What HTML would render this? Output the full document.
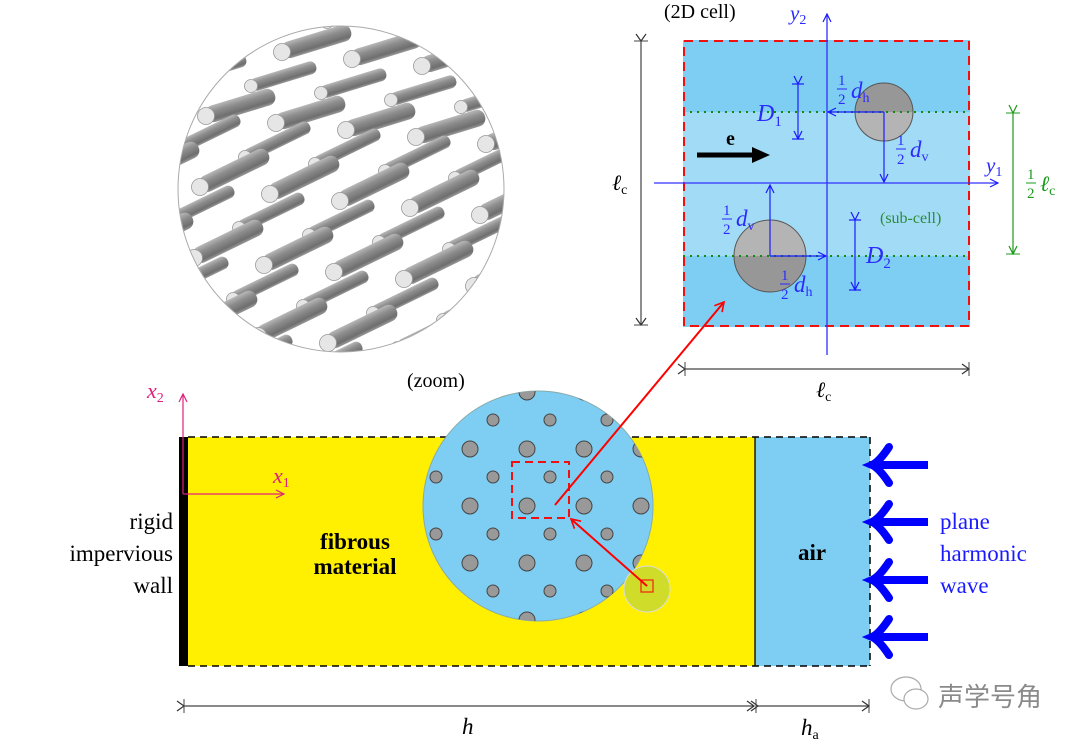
<!DOCTYPE html>
<html><head><meta charset="utf-8"><style>
html,body{margin:0;padding:0;background:#fff;}
svg{display:block;}
.s{font-family:"Liberation Serif",serif;}
.m{font-family:"Liberation Serif",serif;font-style:italic;}
</style></head><body>
<svg width="1080" height="744" viewBox="0 0 1080 744" xmlns="http://www.w3.org/2000/svg">
<defs>
<linearGradient id="rg" x1="0" y1="0" x2="0" y2="1">
<stop offset="0" stop-color="#b8b8b8"/><stop offset="0.35" stop-color="#8e8e8e"/><stop offset="0.8" stop-color="#6e6e6e"/><stop offset="1" stop-color="#9a9a9a"/>
</linearGradient>
<g id="b1"><g transform="rotate(-17)"><rect x="0" y="-8.5" width="72" height="17" rx="8" fill="url(#rg)"/></g><circle r="8.5" fill="#e6e6e6" stroke="#999" stroke-width="0.8"/></g>
<g id="s1"><g transform="rotate(-17)"><rect x="0" y="-6.5" width="68" height="13" rx="6" fill="url(#rg)"/></g><circle r="6.5" fill="#e6e6e6" stroke="#999" stroke-width="0.8"/></g>
<g id="b2"><g transform="rotate(-26)"><rect x="0" y="-8.5" width="76" height="17" rx="8" fill="url(#rg)"/></g><circle r="8.5" fill="#e6e6e6" stroke="#999" stroke-width="0.8"/></g>
<g id="s2"><g transform="rotate(-26)"><rect x="0" y="-6.5" width="72" height="13" rx="6" fill="url(#rg)"/></g><circle r="6.5" fill="#e6e6e6" stroke="#999" stroke-width="0.8"/></g>
<clipPath id="c1"><circle cx="341" cy="189" r="163"/></clipPath>
<clipPath id="c2"><circle cx="538" cy="506" r="115"/></clipPath>
<marker id="ab" markerWidth="10" markerHeight="10" refX="9" refY="5" orient="auto" markerUnits="userSpaceOnUse"><path d="M1,1 L9,5 L1,9" fill="none" stroke="#1a1aff" stroke-width="1.2"/></marker>
<marker id="ak" markerWidth="10" markerHeight="12" refX="9" refY="6" orient="auto" markerUnits="userSpaceOnUse"><path d="M2,1 L9,6 L2,11" fill="none" stroke="#333" stroke-width="1.2"/></marker>
<marker id="am" markerWidth="10" markerHeight="10" refX="9" refY="5" orient="auto" markerUnits="userSpaceOnUse"><path d="M1,1 L9,5 L1,9" fill="none" stroke="#e0207a" stroke-width="1.2"/></marker>
<marker id="ar" markerWidth="12" markerHeight="12" refX="10" refY="6" orient="auto" markerUnits="userSpaceOnUse"><path d="M1,1 L10,6 L1,11" fill="none" stroke="#f00" stroke-width="1.6"/></marker>
<marker id="ag" markerWidth="10" markerHeight="10" refX="9" refY="5" orient="auto" markerUnits="userSpaceOnUse"><path d="M1,1 L9,5 L1,9" fill="none" stroke="#1a9a1a" stroke-width="1.2"/></marker>
</defs>

<!-- fibre zoom circle -->
<g clip-path="url(#c1)">
<rect x="170" y="20" width="345" height="340" fill="#fff"/>
<g>
<use href="#b1" x="78" y="-40"/><use href="#b1" x="148" y="-33"/><use href="#b1" x="218" y="-26"/><use href="#b1" x="288" y="-19"/><use href="#b1" x="358" y="-12"/><use href="#b1" x="428" y="-5"/><use href="#b1" x="498" y="2"/>
<use href="#s1" x="47" y="-6"/><use href="#s1" x="117" y="1"/><use href="#s1" x="187" y="8"/><use href="#s1" x="257" y="15"/><use href="#s1" x="327" y="22"/><use href="#s1" x="397" y="29"/><use href="#s1" x="467" y="36"/>
<use href="#b1" x="72" y="31"/><use href="#b1" x="142" y="38"/><use href="#b1" x="212" y="45"/><use href="#b1" x="282" y="52"/><use href="#b1" x="352" y="59"/><use href="#b1" x="422" y="66"/><use href="#b1" x="492" y="73"/>
<use href="#s1" x="41" y="65"/><use href="#s1" x="111" y="72"/><use href="#s1" x="181" y="79"/><use href="#s1" x="251" y="86"/><use href="#s1" x="321" y="93"/><use href="#s1" x="391" y="100"/><use href="#s1" x="461" y="107"/>
<use href="#b1" x="66" y="102"/><use href="#b1" x="136" y="109"/><use href="#b1" x="206" y="116"/><use href="#b1" x="276" y="123"/><use href="#b1" x="346" y="130"/><use href="#b1" x="416" y="137"/><use href="#b1" x="486" y="144"/>
<use href="#s2" x="35" y="136"/><use href="#s2" x="105" y="143"/><use href="#s2" x="175" y="150"/><use href="#s2" x="245" y="157"/><use href="#s2" x="315" y="164"/><use href="#s2" x="385" y="171"/><use href="#s2" x="455" y="178"/>
<use href="#b2" x="60" y="173"/><use href="#b2" x="130" y="180"/><use href="#b2" x="200" y="187"/><use href="#b2" x="270" y="194"/><use href="#b2" x="340" y="201"/><use href="#b2" x="410" y="208"/><use href="#b2" x="480" y="215"/>
<use href="#s2" x="29" y="207"/><use href="#s2" x="99" y="214"/><use href="#s2" x="169" y="221"/><use href="#s2" x="239" y="228"/><use href="#s2" x="309" y="235"/><use href="#s2" x="379" y="242"/><use href="#s2" x="449" y="249"/>
<use href="#b2" x="54" y="244"/><use href="#b2" x="124" y="251"/><use href="#b2" x="194" y="258"/><use href="#b2" x="264" y="265"/><use href="#b2" x="334" y="272"/><use href="#b2" x="404" y="279"/><use href="#b2" x="474" y="286"/>
<use href="#s2" x="23" y="278"/><use href="#s2" x="93" y="285"/><use href="#s2" x="163" y="292"/><use href="#s2" x="233" y="299"/><use href="#s2" x="303" y="306"/><use href="#s2" x="373" y="313"/><use href="#s2" x="443" y="320"/>
<use href="#b2" x="48" y="315"/><use href="#b2" x="118" y="322"/><use href="#b2" x="188" y="329"/><use href="#b2" x="258" y="336"/><use href="#b2" x="328" y="343"/><use href="#b2" x="398" y="350"/><use href="#b2" x="468" y="357"/>
<use href="#s2" x="17" y="349"/><use href="#s2" x="87" y="356"/><use href="#s2" x="157" y="363"/><use href="#s2" x="227" y="370"/><use href="#s2" x="297" y="377"/><use href="#s2" x="367" y="384"/><use href="#s2" x="437" y="391"/>
</g>
</g>
<circle cx="341" cy="189" r="163" fill="none" stroke="#aaa" stroke-width="1"/>

<!-- 2D cell -->
<rect x="683" y="40" width="287" height="287" fill="#7ecef3"/>
<rect x="683" y="112" width="287" height="144" fill="#a2dbf5"/>
<path d="M855,112 A29,29 0 0 1 913,112 Z" fill="#979797"/>
<path d="M855,112 A29,29 0 0 0 913,112 Z" fill="#b4b4b4"/>
<circle cx="884" cy="112" r="29" fill="none" stroke="#555" stroke-width="1"/>
<path d="M734,256 A36,36 0 0 1 806,256 Z" fill="#b4b4b4"/>
<path d="M734,256 A36,36 0 0 0 806,256 Z" fill="#979797"/>
<circle cx="770" cy="256" r="36" fill="none" stroke="#555" stroke-width="1"/>
<line x1="683" y1="112" x2="970" y2="112" stroke="#138a13" stroke-width="2" stroke-dasharray="2,5"/>
<line x1="683" y1="256" x2="970" y2="256" stroke="#138a13" stroke-width="2" stroke-dasharray="2,5"/>
<rect x="684" y="41" width="285" height="285" fill="none" stroke="#f01010" stroke-width="2" stroke-dasharray="9,6"/>
<!-- axes -->
<line x1="827" y1="355" x2="827" y2="14" stroke="#3030ff" stroke-width="1.3" marker-end="url(#ab)"/>
<line x1="654" y1="183" x2="998" y2="183" stroke="#3030ff" stroke-width="1.3" marker-end="url(#ab)"/>
<text x="790" y="20" class="m" font-size="21" fill="#2a2aff">y<tspan font-size="14" font-style="normal" dy="4">2</tspan></text>
<text x="986" y="172" class="m" font-size="21" fill="#2a2aff">y<tspan font-size="14" font-style="normal" dy="4">1</tspan></text>
<!-- dims blue -->
<g stroke="#1a1aff" stroke-width="1.2" fill="none">
<line x1="798" y1="84" x2="798" y2="139" marker-start="url(#ab)" marker-end="url(#ab)"/>
<line x1="792" y1="84" x2="804" y2="84"/><line x1="792" y1="139" x2="804" y2="139"/>
<line x1="884" y1="112" x2="828" y2="112" marker-end="url(#ab)"/>
<line x1="884" y1="112" x2="884" y2="182" marker-end="url(#ab)"/>
<line x1="770" y1="256" x2="770" y2="185" marker-end="url(#ab)"/>
<line x1="770" y1="256" x2="826" y2="256" marker-end="url(#ab)"/>
<line x1="855" y1="220" x2="855" y2="290" marker-start="url(#ab)" marker-end="url(#ab)"/>
<line x1="849" y1="220" x2="861" y2="220"/><line x1="849" y1="290" x2="861" y2="290"/>
</g>
<g class="s" fill="#2a2aff">
<text x="757" y="121" class="m" font-size="24">D<tspan font-size="15" font-style="normal" dy="5">1</tspan></text>
<text x="866" y="263" class="m" font-size="24">D<tspan font-size="15" font-style="normal" dy="5">2</tspan></text>
<text x="838" y="85" font-size="15">1</text><line x1="837" y1="89" x2="847" y2="89" stroke="#2a2aff"/><text x="838" y="104" font-size="15">2</text><text x="851" y="98" class="m" font-size="23">d<tspan font-size="14" font-style="normal" dy="4">h</tspan></text>
<text x="897" y="145" font-size="15">1</text><line x1="896" y1="149" x2="906" y2="149" stroke="#2a2aff"/><text x="897" y="164" font-size="15">2</text><text x="910" y="157" class="m" font-size="23">d<tspan font-size="14" font-style="normal" dy="4">v</tspan></text>
<text x="723" y="215" font-size="15">1</text><line x1="722" y1="219" x2="732" y2="219" stroke="#2a2aff"/><text x="723" y="234" font-size="15">2</text><text x="736" y="226" class="m" font-size="23">d<tspan font-size="14" font-style="normal" dy="4">v</tspan></text>
<text x="781" y="280" font-size="15">1</text><line x1="780" y1="284" x2="790" y2="284" stroke="#2a2aff"/><text x="781" y="299" font-size="15">2</text><text x="794" y="292" class="m" font-size="23">d<tspan font-size="14" font-style="normal" dy="4">h</tspan></text>
</g>
<text x="880" y="223" class="s" font-size="16" fill="#2e8b3a">(sub-cell)</text>
<!-- e arrow -->
<line x1="697" y1="155" x2="758" y2="155" stroke="#000" stroke-width="5"/>
<path d="M752,147 L770,155 L752,163 Z" fill="#000"/>
<text x="726" y="145" class="s" font-size="20" font-weight="bold">e</text>
<!-- left/bottom dims -->
<line x1="641" y1="41" x2="641" y2="325" stroke="#444" stroke-width="1.2" marker-start="url(#ak)" marker-end="url(#ak)"/>
<line x1="634" y1="41" x2="648" y2="41" stroke="#444"/><line x1="634" y1="325" x2="648" y2="325" stroke="#444"/>
<text x="612" y="190" class="m" font-size="22">ℓ<tspan font-size="14" font-style="normal" dy="4">c</tspan></text>
<line x1="685" y1="369" x2="969" y2="369" stroke="#444" stroke-width="1.2" marker-start="url(#ak)" marker-end="url(#ak)"/>
<line x1="685" y1="362" x2="685" y2="376" stroke="#444"/><line x1="969" y1="362" x2="969" y2="376" stroke="#444"/>
<text x="816" y="397" class="m" font-size="22">ℓ<tspan font-size="14" font-style="normal" dy="4">c</tspan></text>
<line x1="1013" y1="113" x2="1013" y2="254" stroke="#1a9a1a" stroke-width="1.2" marker-start="url(#ag)" marker-end="url(#ag)"/>
<line x1="1006" y1="113" x2="1020" y2="113" stroke="#1a9a1a"/><line x1="1006" y1="254" x2="1020" y2="254" stroke="#1a9a1a"/>
<g fill="#1a9a1a"><text x="1027" y="179" class="s" font-size="15">1</text><line x1="1026" y1="183" x2="1036" y2="183" stroke="#1a9a1a"/><text x="1027" y="198" class="s" font-size="15">2</text><text x="1040" y="191" class="m" font-size="22">ℓ<tspan font-size="14" font-style="normal" dy="4">c</tspan></text></g>
<text x="664" y="18" class="s" font-size="20">(2D cell)</text>

<!-- bottom domain -->
<rect x="188" y="437" width="567" height="229" fill="#ffef00"/>
<rect x="755" y="437" width="115" height="229" fill="#7ecef3"/>
<line x1="188" y1="437" x2="870" y2="437" stroke="#000" stroke-width="1.5" stroke-dasharray="7,5"/>
<line x1="188" y1="666" x2="870" y2="666" stroke="#000" stroke-width="1.5" stroke-dasharray="7,5"/>
<line x1="870" y1="437" x2="870" y2="666" stroke="#000" stroke-width="1.5" stroke-dasharray="7,5"/>
<line x1="755" y1="437" x2="755" y2="666" stroke="#000" stroke-width="1.3"/>
<rect x="179" y="437" width="9" height="229" fill="#000"/>
<line x1="183" y1="494" x2="183" y2="394" stroke="#e0207a" stroke-width="1.2" marker-end="url(#am)"/>
<line x1="183" y1="494" x2="284" y2="494" stroke="#e0207a" stroke-width="1.2" marker-end="url(#am)"/>
<text x="147" y="398" class="m" font-size="22" fill="#e0207a">x<tspan font-size="14" font-style="normal" dy="4">2</tspan></text>
<text x="273" y="483" class="m" font-size="22" fill="#e0207a">x<tspan font-size="14" font-style="normal" dy="4">1</tspan></text>
<g class="s" font-size="23" text-anchor="end"><text x="173" y="529">rigid</text><text x="173" y="561">impervious</text><text x="173" y="593">wall</text></g>
<g class="s" font-size="23" font-weight="bold" text-anchor="middle"><text x="355" y="549">fibrous</text><text x="355" y="574">material</text><text x="812" y="560">air</text></g>
<g class="s" font-size="23" fill="#1a1aff"><text x="940" y="529">plane</text><text x="940" y="561">harmonic</text><text x="940" y="593">wave</text></g>
<!-- wave arrows -->
<g stroke="#0000ff" stroke-width="8" stroke-linecap="round" fill="none">
<line x1="874" y1="465" x2="928" y2="465" stroke-linecap="butt"/><path d="M889,447 Q879,462 872,465 Q879,468 889,483"/>
<line x1="874" y1="522" x2="928" y2="522" stroke-linecap="butt"/><path d="M889,504 Q879,519 872,522 Q879,525 889,540"/>
<line x1="874" y1="580" x2="928" y2="580" stroke-linecap="butt"/><path d="M889,562 Q879,577 872,580 Q879,583 889,598"/>
<line x1="874" y1="637" x2="928" y2="637" stroke-linecap="butt"/><path d="M889,619 Q879,634 872,637 Q879,640 889,655"/>
</g>
<!-- bottom dims -->
<line x1="184" y1="706" x2="754" y2="706" stroke="#444" stroke-width="1.2" marker-start="url(#ak)" marker-end="url(#ak)"/>
<line x1="184" y1="699" x2="184" y2="713" stroke="#444"/><line x1="756" y1="699" x2="756" y2="713" stroke="#444"/>
<line x1="758" y1="706" x2="869" y2="706" stroke="#444" stroke-width="1.2" marker-start="url(#ak)" marker-end="url(#ak)"/>
<line x1="869" y1="699" x2="869" y2="713" stroke="#444"/>
<text x="462" y="734" class="m" font-size="23">h</text>
<text x="801" y="735" class="m" font-size="23">h<tspan font-size="14" font-style="normal" dy="4">a</tspan></text>

<!-- zoom circle -->
<circle cx="538" cy="506" r="115" fill="#7ecef3" stroke="#8aa" stroke-width="1"/>
<g clip-path="url(#c2)" fill="#999" stroke="#444" stroke-width="1">
<g id="bigrow">
<circle cx="413" cy="392" r="8"/><circle cx="470" cy="392" r="8"/><circle cx="527" cy="392" r="8"/><circle cx="584" cy="392" r="8"/><circle cx="641" cy="392" r="8"/>
</g>
<use href="#bigrow" y="57"/><use href="#bigrow" y="114"/><use href="#bigrow" y="171"/><use href="#bigrow" y="228"/>
<g id="smrow">
<circle cx="436" cy="420" r="6"/><circle cx="493" cy="420" r="6"/><circle cx="550" cy="420" r="6"/><circle cx="607" cy="420" r="6"/><circle cx="664" cy="420" r="6"/>
</g>
<use href="#smrow" y="57"/><use href="#smrow" y="114"/><use href="#smrow" y="171"/><use href="#smrow" y="228"/>
</g>
<rect x="512" y="462" width="57" height="56" fill="none" stroke="#f01010" stroke-width="2" stroke-dasharray="8,5"/>
<circle cx="647" cy="589" r="23" fill="#cfdc2a" stroke="#ddd" stroke-width="1"/>
<rect x="641" y="580" width="12" height="12" fill="none" stroke="#f03010" stroke-width="1.3"/>
<line x1="647" y1="586" x2="571" y2="519" stroke="#f00" stroke-width="2" marker-end="url(#ar)"/>
<line x1="555" y1="505" x2="724" y2="302" stroke="#f00" stroke-width="2" marker-end="url(#ar)"/>
<text x="407" y="387" class="s" font-size="20">(zoom)</text>

<!-- watermark -->
<g fill="#fff" stroke="#aaa" stroke-width="1.2">
<ellipse cx="906" cy="689" rx="15" ry="12"/>
<ellipse cx="916" cy="699" rx="12" ry="10"/>
</g>
<text x="938" y="706" font-family="'Noto Sans CJK SC',sans-serif" font-size="26" fill="#8a8a8a">声学号角</text>
</svg>
</body></html>
